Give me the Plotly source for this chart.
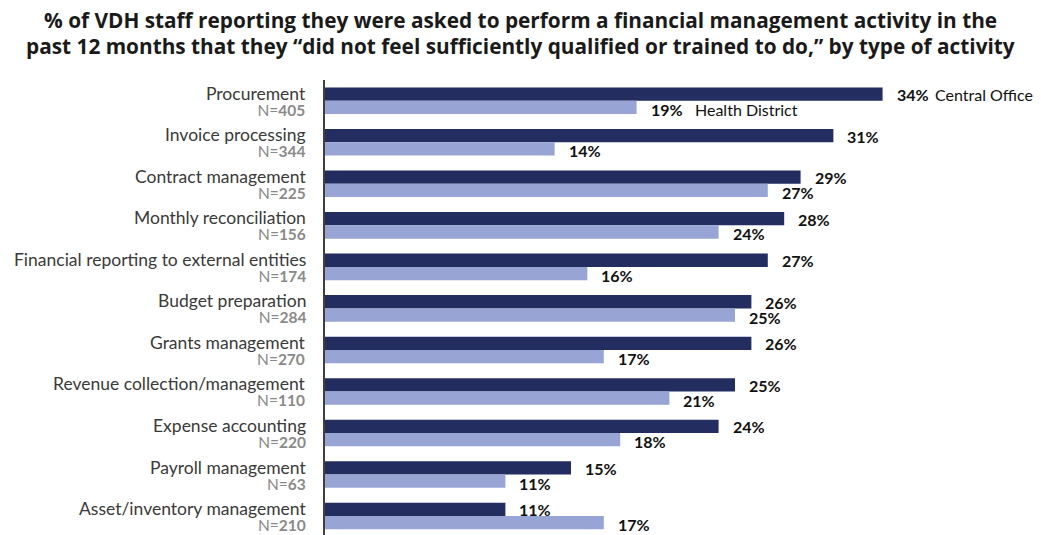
import plotly.graph_objects as go

# Survey data: share of staff asked to do an activity they felt unqualified for
activities = [
    "Procurement",
    "Invoice processing",
    "Contract management",
    "Monthly reconciliation",
    "Financial reporting to external entities",
    "Budget preparation",
    "Grants management",
    "Revenue collection/management",
    "Expense accounting",
    "Payroll management",
    "Asset/inventory management",
]
respondents = [405, 344, 225, 156, 174, 284, 270, 110, 220, 63, 210]
central_office = [34, 31, 29, 28, 27, 26, 26, 25, 24, 15, 11]
health_district = [19, 14, 27, 24, 16, 25, 17, 21, 18, 11, 17]
title_lines = [
    "% of VDH staff reporting they were asked to perform a financial management activity in the",
    "past 12 months that they \u201cdid not feel sufficiently qualified or trained to do,\u201d by type of activity",
]

DARK = "#232D5F"
LIGHT = "#98A4D4"
FONT = "Lato"
BAR_W = 0.32
ROW_PX = 41.5
WIDTH, LEFT = 1041, 325

fig = go.Figure()
fig.add_trace(go.Bar(
    y=activities, x=central_office, orientation="h", name="Central Office",
    marker=dict(color=DARK, line=dict(width=0)),
    width=BAR_W, offset=-BAR_W, hoverinfo="x+y",
))
fig.add_trace(go.Bar(
    y=activities, x=health_district, orientation="h", name="Health District",
    marker=dict(color=LIGHT, line=dict(width=0)),
    width=BAR_W, offset=0, hoverinfo="x+y",
))

annotations = []
for act, n, co, hd in zip(activities, respondents, central_office, health_district):
    # Category name with its sample size on a second, tighter line
    annotations.append(dict(
        x=0, xref="paper", y=act, yref="y", xanchor="right", yanchor="middle",
        xshift=-17, yshift=0, showarrow=False, align="right",
        text=(f"<span style='font-size:17.5px;color:#3a3a3a'>{act}</span><br>"
              f"<span style='font-size:15.5px;color:#8a8a8a'>N=<b>{n}</b></span>"),
        font=dict(family=FONT, size=12.6, color="#3a3a3a"),
    ))
    # Value labels at bar ends
    annotations.append(dict(
        x=co, xref="x", y=act, yref="y", xanchor="left", yanchor="middle",
        xshift=12, yshift=BAR_W / 2 * ROW_PX - 0.5, showarrow=False,
        text=f"<b>{co}%</b>", font=dict(family=FONT, size=16, color="#111111"),
    ))
    annotations.append(dict(
        x=hd, xref="x", y=act, yref="y", xanchor="left", yanchor="middle",
        xshift=12, yshift=-BAR_W / 2 * ROW_PX - 2, showarrow=False,
        text=f"<b>{hd}%</b>", font=dict(family=FONT, size=16, color="#111111"),
    ))

# Series names placed beside the first row's labels
annotations.append(dict(
    x=central_office[0], xref="x", y=activities[0], yref="y",
    xanchor="left", yanchor="middle", xshift=50, yshift=BAR_W / 2 * ROW_PX - 0.5,
    showarrow=False, text="Central Office",
    font=dict(family=FONT, size=16, color="#111111"),
))
annotations.append(dict(
    x=health_district[0], xref="x", y=activities[0], yref="y",
    xanchor="left", yanchor="middle", xshift=56, yshift=-BAR_W / 2 * ROW_PX - 2,
    showarrow=False, text="Health District",
    font=dict(family=FONT, size=16, color="#111111"),
))

# Two-line chart title centred on the whole figure
for line, shift in zip(title_lines, [60, 34]):
    annotations.append(dict(
        x=(WIDTH / 2 - LEFT) / (WIDTH - LEFT), xref="paper", y=1, yref="paper",
        xanchor="center", yanchor="middle", yshift=shift, showarrow=False,
        text=line,
        font=dict(family="Open Sans", size=20.8, color="#1a1a1a", weight="bold"),
    ))

fig.update_layout(
    width=WIDTH, height=535,
    margin=dict(l=LEFT, r=0, t=80, b=0),
    paper_bgcolor="white", plot_bgcolor="white",
    showlegend=False,
    barmode="overlay",
    annotations=annotations,
)
fig.update_xaxes(range=[0, 43.66], visible=False, showgrid=False, zeroline=False)
fig.update_yaxes(
    type="category", range=[10.456, -0.5],
    showticklabels=False, ticks="", showgrid=False, zeroline=False,
    showline=True, linecolor="#404040", linewidth=1.5,
)

fig.write_html("out.html")
